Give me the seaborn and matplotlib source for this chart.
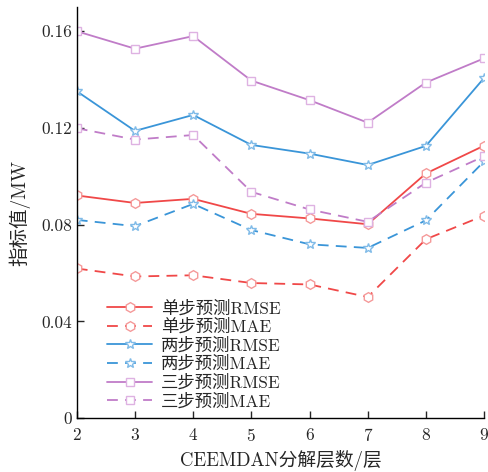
import matplotlib
matplotlib.use("Agg")
import matplotlib.pyplot as plt
import seaborn as sns
import pandas as pd

# decomposition levels
levels = [2, 3, 4, 5, 6, 7, 8, 9]

# index values (MW)
one_rmse = [0.0921, 0.0890, 0.0907, 0.0845, 0.0826, 0.0802, 0.1012, 0.1127]
one_mae = [0.0619, 0.0586, 0.0591, 0.0559, 0.0553, 0.0501, 0.0740, 0.0838]
two_rmse = [0.1352, 0.1188, 0.1254, 0.1130, 0.1094, 0.1047, 0.1126, 0.1407]
two_mae = [0.0820, 0.0794, 0.0886, 0.0778, 0.0719, 0.0704, 0.0818, 0.1062]
three_rmse = [0.1600, 0.1528, 0.1580, 0.1396, 0.1315, 0.1222, 0.1388, 0.1488]
three_mae = [0.1199, 0.1152, 0.1171, 0.0936, 0.0863, 0.0812, 0.0974, 0.1083]

series_names = ["单步预测RMSE", "单步预测MAE", "两步预测RMSE",
                "两步预测MAE", "三步预测RMSE", "三步预测MAE"]
series_vals = [one_rmse, one_mae, two_rmse, two_mae, three_rmse, three_mae]

y_ticks = [0, 0.04, 0.08, 0.12, 0.16]
y_tick_labels = ["0", "0.04", "0.08", "0.12", "0.16"]

sns.set_style("ticks")
plt.rcParams["font.family"] = ["cmr10", "Noto Sans CJK SC"]
plt.rcParams["axes.formatter.use_mathtext"] = True
plt.rcParams["xtick.direction"] = "in"
plt.rcParams["ytick.direction"] = "in"

rows = []
for name, vals in zip(series_names, series_vals):
    for lv, v in zip(levels, vals):
        rows.append({"层数": lv, "值": v, "系列": name})
df = pd.DataFrame(rows)

# line colour, marker edge colour, marker, dashed?
styles = {
    "单步预测RMSE": ("#f04848", "#f59a9a", "h", False),
    "单步预测MAE": ("#f04848", "#f59a9a", "h", True),
    "两步预测RMSE": ("#3a95d8", "#80bbe8", "*", False),
    "两步预测MAE": ("#3a95d8", "#80bbe8", "*", True),
    "三步预测RMSE": ("#c07cc8", "#deb2e2", "s", False),
    "三步预测MAE": ("#c07cc8", "#deb2e2", "s", True),
}

fig = plt.figure(figsize=(4.89, 4.72), dpi=100)
ax = fig.add_axes([0.157, 0.114, 0.833, 0.871])

for name in series_names:
    color, mec, marker, dashed = styles[name]
    sub = df[df["系列"] == name]
    sns.lineplot(data=sub, x="层数", y="值", ax=ax, color=color,
                 linewidth=1.3, linestyle=(0, (6, 4)) if dashed else "-",
                 marker=marker, markersize=7 if marker != "s" else 6,
                 markerfacecolor="white", markeredgecolor=mec,
                 markeredgewidth=1.0, label=name)

ax.set_xlim(2, 9)
ax.set_ylim(0, 0.17)
ax.set_xticks(levels)
ax.set_yticks(y_ticks)
ax.set_yticklabels(y_tick_labels)
ax.tick_params(labelsize=12.5, length=5, width=1)
ax.tick_params(axis="x", pad=6)
ax.set_xlabel("CEEMDAN分解层数/层", fontsize=13.5, labelpad=5)
ax.set_ylabel("指标值/MW", fontsize=14, labelpad=8)
sns.despine(ax=ax)
for s in ["left", "bottom"]:
    ax.spines[s].set_linewidth(1.0)
    ax.spines[s].set_color("black")

ax.legend(loc="lower left", bbox_to_anchor=(0.045, -0.008), frameon=False,
          fontsize=12.5, handlelength=2.6, handletextpad=0.5,
          labelspacing=0.13, borderaxespad=0.3)

fig.savefig("out.png", dpi=100)
plt.close(fig)
